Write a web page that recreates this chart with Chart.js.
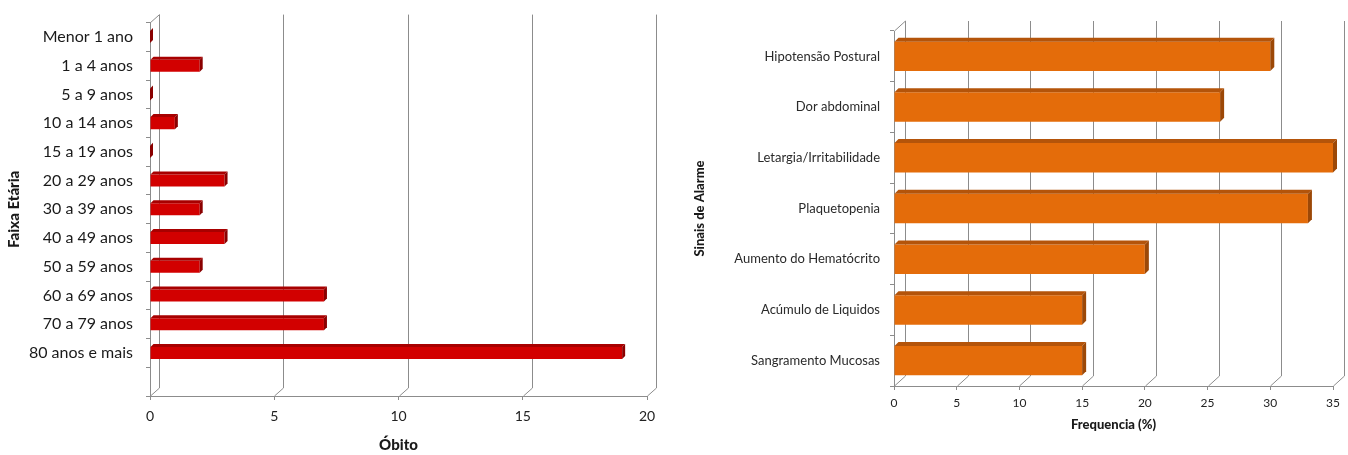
<!DOCTYPE html>
<html lang="pt">
<head>
<meta charset="utf-8">
<title>Óbitos por faixa etária e sinais de alarme</title>
<script src="https://cdn.jsdelivr.net/npm/chart.js@4.4.1/dist/chart.umd.min.js"></script>
<style>
	body { margin: 0; background: #fff; }
	.wrap { display: flex; width: 1348px; height: 455px; }
	canvas { display: block; }
</style>
</head>
<body>
<div class="wrap">
	<canvas id="faixaChart" width="674" height="455"></canvas>
	<canvas id="sinaisChart" width="674" height="455"></canvas>
</div>
<script>
// dados
const faixaLabels = [
	'Menor 1 ano', '1 a 4 anos', '5 a 9 anos', '10 a 14 anos', '15 a 19 anos',
	'20 a 29 anos', '30 a 39 anos', '40 a 49 anos', '50 a 59 anos',
	'60 a 69 anos', '70 a 79 anos', '80 anos e mais', '',
]
const obitos = [0, 2, 0, 1, 0, 3, 2, 3, 2, 7, 7, 19, null]

const sinaisLabels = [
	'Hipotensão Postural', 'Dor abdominal', 'Letargia/Irritabilidade',
	'Plaquetopenia', 'Aumento do Hematócrito', 'Acúmulo de Liquidos',
	'Sangramento Mucosas',
]
const frequencia = [30, 26, 35, 33, 20, 15, 15]

const FONT = 'Lato, "Noto Sans", sans-serif'
const GRID = '#8c8c8c'

// parede de fundo + faces laterais das barras (efeito 3D do Excel)
const depthPlugin = {
	id: 'depth3d',
	beforeDatasetsDraw(chart, args, opts) {
		const { ctx, chartArea: a, scales } = chart
		const x = scales.x
		const dx = opts.dx
		const dy = opts.dy
		ctx.save()
		ctx.strokeStyle = GRID
		ctx.lineWidth = 1
		ctx.beginPath()
		ctx.moveTo(a.left + 0.5, a.top)
		ctx.lineTo(a.left + dx + 0.5, a.top - dy)
		x.ticks.forEach(t => {
			const px = Math.round(x.getPixelForValue(t.value)) + 0.5
			ctx.moveTo(px + dx, a.top - dy)
			ctx.lineTo(px + dx, a.bottom - dy)
			ctx.lineTo(px, a.bottom)
		})
		ctx.stroke()
		ctx.restore()
	},
	afterDatasetsDraw(chart, args, opts) {
		const { ctx } = chart
		const d = opts.barDepth
		const values = chart.data.datasets[0].data
		chart.getDatasetMeta(0).data.forEach((bar, i) => {
			if (values[i] == null) return
			const { x, y, base, height } = bar.getProps(['x', 'y', 'base', 'height'], true)
			const top = y - height / 2
			const bottom = y + height / 2
			ctx.save()
			ctx.fillStyle = opts.topColor
			ctx.beginPath()
			ctx.moveTo(base, top)
			ctx.lineTo(base + d, top - d)
			ctx.lineTo(x + d, top - d)
			ctx.lineTo(x, top)
			ctx.closePath()
			ctx.fill()
			ctx.fillStyle = opts.sideColor
			ctx.beginPath()
			ctx.moveTo(x, top)
			ctx.lineTo(x + d, top - d)
			ctx.lineTo(x + d, bottom - d)
			ctx.lineTo(x, bottom)
			ctx.closePath()
			ctx.fill()
			ctx.restore()
		})
	},
}

function makeChart(id, cfg) {
	return new Chart(document.getElementById(id), {
		type: 'bar',
		data: {
			labels: cfg.labels,
			datasets: [
				{
					data: cfg.values,
					backgroundColor: cfg.color,
					borderWidth: 0,
					categoryPercentage: 1,
					barPercentage: cfg.barPct,
				},
			],
		},
		plugins: [depthPlugin],
		options: {
			indexAxis: 'y',
			responsive: false,
			animation: false,
			layout: { padding: cfg.padding },
			plugins: {
				legend: { display: false },
				tooltip: { enabled: false },
				depth3d: cfg.depth,
			},
			scales: {
				x: {
					min: 0,
					max: cfg.max,
					ticks: {
						stepSize: 5,
						color: '#222',
						padding: cfg.xTickPad,
						font: { family: FONT, size: cfg.xTickSize },
					},
					grid: { drawOnChartArea: false, tickLength: 4, color: GRID },
					border: { color: GRID },
					title: {
						display: true,
						text: cfg.xTitle,
						color: '#1a1a1a',
						padding: { top: 0, bottom: cfg.xTitlePad },
						font: { family: FONT, size: cfg.xTitleSize, weight: '900' },
					},
					afterFit: s => { s.height = cfg.xHeight },
				},
				y: {
					ticks: {
						color: cfg.yTickColor,
						padding: cfg.yTickPad,
						font: { family: FONT, size: cfg.yTickSize },
					},
					grid: { drawOnChartArea: false, tickLength: 4, color: GRID, offset: true },
					border: { color: GRID },
					title: {
						display: true,
						text: cfg.yTitle,
						color: '#1a1a1a',
						padding: { top: cfg.yTitlePad, bottom: 0 },
						font: { family: FONT, size: cfg.yTitleSize, weight: '900' },
					},
					afterFit: s => { s.width = cfg.yWidth },
				},
			},
		},
	})
}

makeChart('faixaChart', {
	labels: faixaLabels,
	values: obitos,
	color: '#d20000',
	barPct: 0.42,
	max: 20,
	padding: { top: 17, right: 27, left: 0, bottom: 0 },
	depth: { dx: 9, dy: 8, barDepth: 3, topColor: '#a80000', sideColor: '#8a0000' },
	xTitle: 'Óbito',
	xTitleSize: 15,
	xTitlePad: 1,
	xTickSize: 14,
	xTickPad: 8,
	xHeight: 59,
	yTitle: 'Faixa Etária',
	yTitleSize: 15,
	yTitlePad: 5,
	yTickSize: 16,
	yTickColor: '#1a1a1a',
	yTickPad: 13,
	yWidth: 150,
})

makeChart('sinaisChart', {
	labels: sinaisLabels,
	values: frequencia,
	color: '#e46c0a',
	barPct: 0.58,
	max: 35,
	padding: { top: 31, right: 15, left: 0, bottom: 0 },
	depth: { dx: 11, dy: 10, barDepth: 4, topColor: '#b4540a', sideColor: '#9c4807' },
	xTitle: 'Frequencia (%)',
	xTitleSize: 13,
	xTitlePad: 22,
	xTickSize: 12,
	xTickPad: 6,
	xHeight: 69,
	yTitle: 'Sinais de Alarme',
	yTitleSize: 13,
	yTitlePad: 18,
	yTickSize: 13,
	yTickColor: '#2a2a2a',
	yTickPad: 10,
	yWidth: 220,
})
</script>
</body>
</html>
